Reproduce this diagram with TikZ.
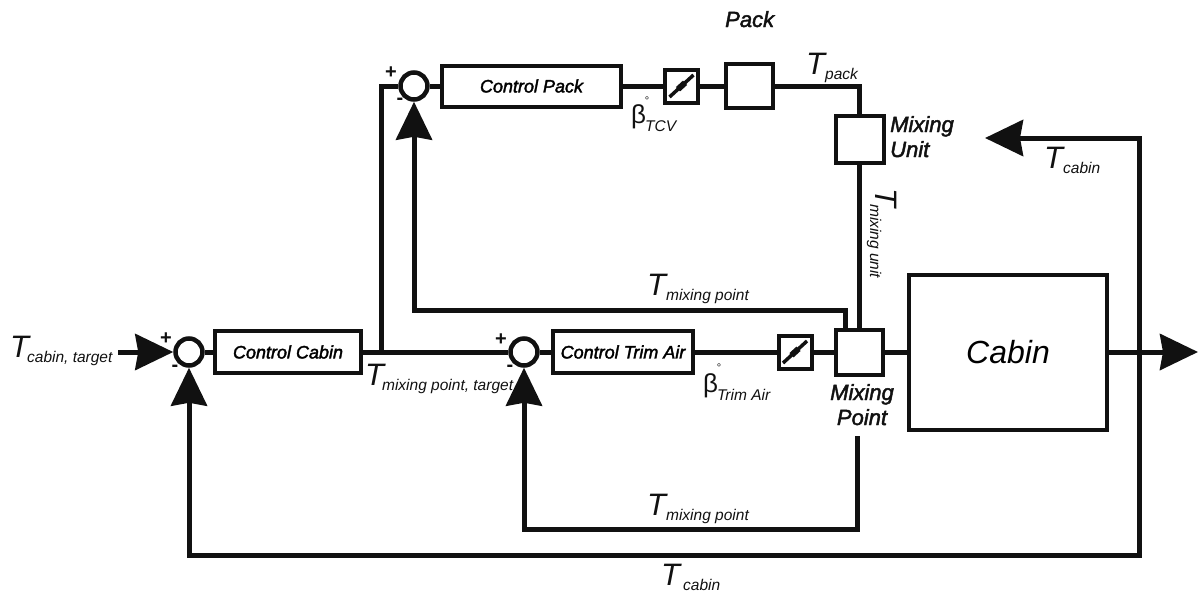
\documentclass[tikz,border=0pt]{standalone}
\usepackage{fontspec}
\setmainfont{Liberation Sans}
\newfontfamily\heavyit{Liberation Sans Italic}[FakeBold=2]
\newfontfamily\plainit{Liberation Sans Italic}
\usetikzlibrary{arrows.meta,calc}
\definecolor{ink}{HTML}{111111}
\newcommand{\Fs}[1]{\fontsize{#1}{#1}\selectfont}
\newcommand{\TT}[3][31]{{\plainit\Fs{#1}T\kern#2pt\raisebox{-5pt}{\Fs{15.5}#3}}}
\newcommand{\BB}[2]{{\Fs{26}β\kern-1pt\raisebox{-8pt}{\plainit\Fs{15.5}#2}}}
\tikzset{
  wire/.style={line width=5pt,draw=ink,line join=miter},
  fbk/.style={wire,-{Stealth[length=38pt,width=36pt,inset=3pt]}},
  blockbox/.style={draw=ink,line width=4pt,fill=white,inner sep=0pt,font=\heavyit\Fs{18}},
  sumc/.style={circle,draw=ink,line width=4.5pt,fill=white,minimum size=27pt,inner sep=0pt},
  sgn/.style={inner sep=0pt,font=\bfseries\Fs{20},text=ink},
  lbl/.style={inner sep=0pt,anchor=base west,text=ink},
  big/.style={inner sep=0pt,text=ink,font=\heavyit\Fs{22},align=left},
  deg/.style={inner sep=0pt,anchor=base,text=ink,font=\Fs{11}},
  vane/.style={draw=ink,line width=3.5pt}
}
\begin{document}
\begin{tikzpicture}[x=1pt,y=-1pt]
\useasboundingbox (0,0) rectangle (1198,595);
% blocks
\node[sumc] (s1) at (189,352) {};
\node[sumc] (s2) at (524,352) {};
\node[sumc] (s3) at (414,86) {};
\node[blockbox,minimum width=146pt,minimum height=42pt] (cc) at (288,352) {Control Cabin};
\node[blockbox,minimum width=140pt,minimum height=42pt] (ct) at (623,352) {Control Trim Air};
\node[blockbox,minimum width=179pt,minimum height=41pt] (cp) at (531.5,86) {Control Pack};
\node[blockbox,minimum width=33pt,minimum height=33pt] (v1) at (681.5,86) {};
\node[blockbox,minimum width=47pt,minimum height=44pt] (pk) at (749.5,86) {};
\node[blockbox,minimum width=33pt,minimum height=33pt] (v2) at (795,352) {};
\node[blockbox,minimum width=47pt,minimum height=45pt] (mp) at (859.5,352) {};
\node[blockbox,minimum width=48pt,minimum height=47pt] (mu) at (859.5,139.5) {};
\node[blockbox,minimum width=198pt,minimum height=155pt] (cab) at (1008,352) {\plainit\Fs{32}Cabin};
% valve vanes
\draw[vane] ($(v1.center)+(-12,11)$) -- ($(v1.center)+(12,-11)$);
\draw[vane,line width=6pt] ($(v1.center)+(-3.5,3.2)$) -- ($(v1.center)+(3.5,-3.2)$);
\draw[vane] ($(v2.center)+(-12,11)$) -- ($(v2.center)+(12,-11)$);
\draw[vane,line width=6pt] ($(v2.center)+(-3.5,3.2)$) -- ($(v2.center)+(3.5,-3.2)$);
% free ends and corners
\coordinate (in) at (118,352);
\coordinate (out) at (1198,352);
\coordinate (br) at (381,352);
\coordinate (cabback) at (1139,352);
\coordinate (cabtip) at (985,138);
\coordinate (mpfb) at (845,310);
\coordinate (mpl) at (857,436);
% connectors
\draw[fbk] (in) -- (s1.west);
\draw[wire] (s1.east) -- (cc.west);
\draw[wire] (cc.east) -- (s2.west);
\draw[wire] (s2.east) -- (ct.west);
\draw[wire] (ct.east) -- (v2.west);
\draw[wire] (v2.east) -- (mp.west);
\draw[wire] (mp.east) -- (cab.west);
\draw[fbk] (cab.east) -- (out);
\draw[wire] (br) -- (br |- s3) -- (s3.west);
\draw[wire] (s3.east) -- (cp.west);
\draw[wire] (cp.east) -- (v1.west);
\draw[wire] (v1.east) -- (pk.west);
\draw[wire] (pk.east) -| (mu.north);
\draw[wire] (mu.south) -- (mu.south |- mp.north);
\draw[fbk] (mpfb |- mp.north) -- (mpfb) -| (s3.south);
\draw[fbk] (mpl) |- (524,529) -- (s2.south);
\draw[fbk] (cabback) -- (1139,555) -| (s1.south);
\draw[fbk] (cabback) |- (cabtip);
% signs
\node[sgn] (p1) at (166,339) {+};
\node[sgn] (m1) at (175,368) {-};
\node[sgn] (p2) at (501,340) {+};
\node[sgn] (m2) at (510,368) {-};
\node[sgn] (p3) at (391,73) {+};
\node[sgn] (m3) at (400,101) {-};
% text labels
\node[big,lbl,font=\heavyit\Fs{22}] (tp) at (725,27) {Pack};
\node[big,lbl] (tu1) at (890,132) {Mixing};
\node[big,lbl] (tu2) at (890,157) {Unit};
\node[big,anchor=base] (tm1) at (862,400) {Mixing};
\node[big,anchor=base] (tm2) at (862,425) {Point};
\node[lbl] (l1) at (10,357) {\TT{-2}{cabin, target}};
\node[lbl] (l2) at (365,385) {\TT{-2}{mixing point, target}};
\node[lbl] (l3) at (647,295) {\TT{0}{mixing point}};
\node[lbl] (l4) at (647,515) {\TT{0}{mixing point}};
\node[lbl] (l5) at (661,585) {\TT{3}{cabin}};
\node[lbl] (l6) at (806,74) {\TT{0}{pack}};
\node[lbl] (l7) at (1044,168) {\TT{0}{cabin}};
\node[lbl,rotate=-90] (l8) at (875,188) {\TT{-3}{mixing unit}};
\node[lbl] (b1) at (631,123) {\BB{}{TCV}};
\node[lbl] (b2) at (703,392) {\BB{}{Trim Air}};
\node[deg] (d1) at (647,104) {°};
\node[deg] (d2) at (719,371) {°};
\end{tikzpicture}
\end{document}
